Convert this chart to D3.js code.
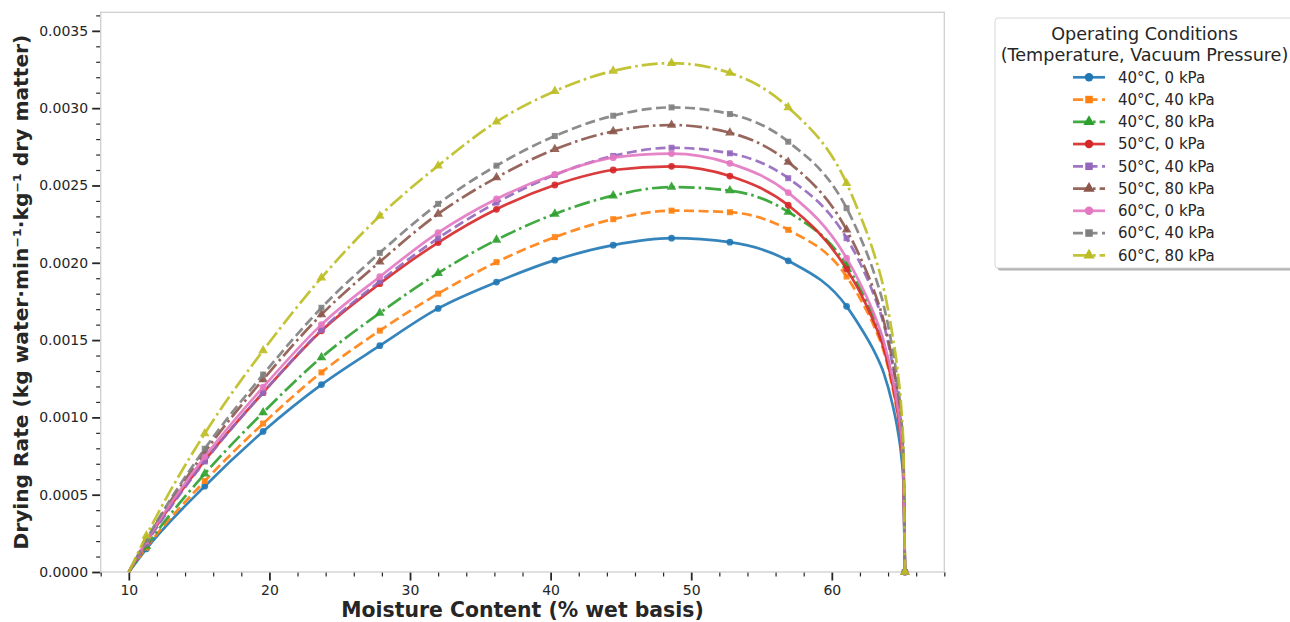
<!DOCTYPE html>
<html>
<head>
<meta charset="utf-8">
<script src="https://cdn.jsdelivr.net/npm/d3@7"></script>
<style>
  body { margin: 0; background: #fff; }
  text { font-family: "DejaVu Sans", sans-serif; }
</style>
</head>
<body>
<svg id="chart" width="1290" height="622"></svg>
<script>
// Moisture content sample points (% wet basis)
const moisture = [10, 11.25, 15.4, 19.55, 23.7, 27.85, 32.0, 36.15, 40.3, 44.45, 48.6, 52.75, 56.9, 61.05,
                  62.0, 63.0, 63.7, 64.3, 64.7, 64.95, 65.1, 65.2];

// Drying rate (kg water·min⁻¹·kg⁻¹ dry matter) for each operating condition
const rate40C0kPa  = [0, 0.000150, 0.000555, 0.000909, 0.001212, 0.001464, 0.001705, 0.001875, 0.002017, 0.002114, 0.002159, 0.002133, 0.002013, 0.001718,
                      0.001588, 0.001430, 0.001285, 0.001090, 0.000910, 0.000745, 0.000560, 0];
const rate40C40kPa = [0, 0.000158, 0.000588, 0.000960, 0.001291, 0.001561, 0.001800, 0.002004, 0.002166, 0.002282, 0.002337, 0.002327, 0.002213, 0.001911,
                      0.001770, 0.001590, 0.001425, 0.001200, 0.001000, 0.000820, 0.000610, 0];
const rate40C80kPa = [0, 0.000168, 0.000635, 0.001031, 0.001388, 0.001675, 0.001933, 0.002148, 0.002316, 0.002434, 0.002490, 0.002467, 0.002329, 0.001985,
                      0.001835, 0.001650, 0.001475, 0.001245, 0.001040, 0.000850, 0.000630, 0];
const rate50C0kPa  = [0, 0.000195, 0.000720, 0.001160, 0.001560, 0.001865, 0.002131, 0.002346, 0.002503, 0.002600, 0.002624, 0.002561, 0.002372, 0.001959,
                      0.001810, 0.001615, 0.001445, 0.001220, 0.001020, 0.000830, 0.000620, 0];
const rate50C40kPa = [0, 0.000185, 0.000715, 0.001160, 0.001565, 0.001880, 0.002159, 0.002389, 0.002568, 0.002691, 0.002744, 0.002708, 0.002547, 0.002159,
                      0.002000, 0.001790, 0.001600, 0.001350, 0.001130, 0.000920, 0.000680, 0];
const rate50C80kPa = [0, 0.000205, 0.000775, 0.001245, 0.001665, 0.002006, 0.002316, 0.002551, 0.002734, 0.002850, 0.002891, 0.002841, 0.002652, 0.002213,
                      0.002040, 0.001820, 0.001620, 0.001370, 0.001140, 0.000930, 0.000690, 0];
const rate60C0kPa  = [0, 0.000200, 0.000745, 0.001195, 0.001600, 0.001910, 0.002195, 0.002413, 0.002572, 0.002680, 0.002706, 0.002643, 0.002454, 0.002030,
                      0.001870, 0.001670, 0.001490, 0.001260, 0.001050, 0.000860, 0.000640, 0];
const rate60C40kPa = [0, 0.000210, 0.000797, 0.001277, 0.001709, 0.002064, 0.002381, 0.002628, 0.002820, 0.002951, 0.003005, 0.002962, 0.002783, 0.002353,
                      0.002170, 0.001935, 0.001720, 0.001450, 0.001210, 0.000985, 0.000730, 0];
const rate60C80kPa = [0, 0.000235, 0.000896, 0.001432, 0.001903, 0.002303, 0.002628, 0.002912, 0.003110, 0.003241, 0.003291, 0.003228, 0.003005, 0.002514,
                      0.002310, 0.002060, 0.001830, 0.001540, 0.001285, 0.001045, 0.000770, 0];

const conditionLabels = ["40°C, 0 kPa", "40°C, 40 kPa", "40°C, 80 kPa",
                         "50°C, 0 kPa", "50°C, 40 kPa", "50°C, 80 kPa",
                         "60°C, 0 kPa", "60°C, 40 kPa", "60°C, 80 kPa"];
const vacuumLevels = [0, 40, 80, 0, 40, 80, 0, 40, 80];
const rateSeries = [rate40C0kPa, rate40C40kPa, rate40C80kPa,
                    rate50C0kPa, rate50C40kPa, rate50C80kPa,
                    rate60C0kPa, rate60C40kPa, rate60C80kPa];

// Sample indices that carry a marker
const markerIndex = [1, 2, 3, 4, 5, 6, 7, 8, 9, 10, 11, 12, 13, 21];

const xTicks = [10, 20, 30, 40, 50, 60];
const yTicks = [0, 0.0005, 0.0010, 0.0015, 0.0020, 0.0025, 0.0030, 0.0035];

// ---- styling ----
const palette = d3.schemeCategory10;
const dashFor = { 0: null, 40: "10,4.5", 80: "16,4,2.6,4" };
const symbolFor = { 0: d3.symbolCircle, 40: d3.symbolSquare, 80: d3.symbolTriangle };
const symbolArea = { 0: 36, 40: 36, 80: 40 };

const svg = d3.select("#chart");
const plot = { left: 100.7, right: 944.3, top: 12.3, bottom: 572 };

const x = d3.scaleLinear().domain([8, 68]).range([plot.left, plot.right]);
const y = d3.scaleLinear().domain([0, 0.00362]).range([plot.bottom, plot.top]);

svg.append("rect").attr("width", 1290).attr("height", 622).attr("fill", "#fff");

// Axes: major ticks with labels, minor ticks without
const tickColor = "#262626";
function styleAxis(g) {
  g.select(".domain").remove();
  g.selectAll(".tick line").attr("stroke", tickColor);
  g.selectAll(".tick text").attr("fill", tickColor).style("font-size", "14px")
    .style("font-family", "'DejaVu Sans', sans-serif");
}

const xMinor = d3.range(8, 68.01, 2).filter(v => v % 10 !== 0);
svg.append("g").attr("transform", `translate(0,${plot.bottom})`)
  .call(d3.axisBottom(x).tickValues(xMinor).tickSize(4.5).tickFormat(""))
  .call(styleAxis).selectAll(".tick line").attr("stroke-width", 1.2);
svg.append("g").attr("transform", `translate(0,${plot.bottom})`)
  .call(d3.axisBottom(x).tickValues(xTicks).tickSize(8.5).tickPadding(5).tickFormat(d3.format("d")))
  .call(styleAxis).selectAll(".tick line").attr("stroke-width", 1.8);

const yMinor = d3.range(0, 37).map(i => i * 0.0001).filter((v, i) => i % 5 !== 0);
svg.append("g").attr("transform", `translate(${plot.left},0)`)
  .call(d3.axisLeft(y).tickValues(yMinor).tickSize(4.5).tickFormat(""))
  .call(styleAxis).selectAll(".tick line").attr("stroke-width", 1.2);
svg.append("g").attr("transform", `translate(${plot.left},0)`)
  .call(d3.axisLeft(y).tickValues(yTicks).tickSize(8.5).tickPadding(4).tickFormat(d3.format(".4f")))
  .call(styleAxis).selectAll(".tick line").attr("stroke-width", 1.8);

// Plot frame
svg.append("rect")
  .attr("x", plot.left).attr("y", plot.top)
  .attr("width", plot.right - plot.left).attr("height", plot.bottom - plot.top)
  .attr("fill", "none").attr("stroke", "#cfcfcf").attr("stroke-width", 1.3);

// Curves
const line = d3.line()
  .x(d => x(d[0]))
  .y(d => y(d[1]))
  .curve(d3.curveMonotoneX);

const curves = svg.append("g");
rateSeries.forEach((vals, i) => {
  const pts = moisture.map((m, k) => [m, vals[k]]);
  const color = palette[i];
  const vac = vacuumLevels[i];
  curves.append("path")
    .datum(pts)
    .attr("d", line)
    .attr("fill", "none")
    .attr("stroke", color)
    .attr("stroke-width", 2.7)
    .attr("stroke-opacity", 0.9)
    .attr("stroke-dasharray", dashFor[vac]);
  const sym = d3.symbol().type(symbolFor[vac]).size(symbolArea[vac]);
  curves.append("g").selectAll("path")
    .data(markerIndex.map(k => pts[k]))
    .join("path")
    .attr("transform", d => `translate(${x(d[0])},${y(d[1])})`)
    .attr("d", sym)
    .attr("fill", color)
    .attr("fill-opacity", 0.9);
});

// Axis titles
svg.append("text")
  .attr("x", (plot.left + plot.right) / 2).attr("y", 617)
  .attr("text-anchor", "middle")
  .style("font-size", "20.4px").style("font-weight", "bold").attr("fill", tickColor)
  .text("Moisture Content (% wet basis)");

svg.append("text")
  .attr("transform", `translate(27.5,${(plot.top + plot.bottom) / 2}) rotate(-90)`)
  .attr("text-anchor", "middle")
  .style("font-size", "20.2px").style("font-weight", "bold").attr("fill", tickColor)
  .text("Drying Rate (kg water·min⁻¹·kg⁻¹ dry matter)");

// Legend
const lg = svg.append("g").attr("transform", "translate(995,18)");
lg.append("rect").attr("x", 2.5).attr("y", 2.5).attr("width", 300).attr("height", 250).attr("rx", 3)
  .attr("fill", "#000").attr("fill-opacity", 0.3);
lg.append("rect").attr("x", 0).attr("y", 0).attr("width", 300).attr("height", 250).attr("rx", 3)
  .attr("fill", "#fff").attr("stroke", "#d6d6d6").attr("stroke-width", 1);

lg.append("text").attr("x", 149.5).attr("y", 21.5).attr("text-anchor", "middle")
  .style("font-size", "17.6px").attr("fill", tickColor).text("Operating Conditions");
lg.append("text").attr("x", 149.5).attr("y", 42.5).attr("text-anchor", "middle")
  .style("font-size", "17.6px").attr("fill", tickColor).text("(Temperature, Vacuum Pressure)");

conditionLabels.forEach((lab, i) => {
  const cy = 59.3 + i * 22.25;
  const color = palette[i];
  const vac = vacuumLevels[i];
  const row = lg.append("g").attr("transform", `translate(0,${cy})`);
  row.append("line").attr("x1", 78).attr("x2", 110).attr("y1", 0).attr("y2", 0)
    .attr("stroke", color).attr("stroke-width", 2.7).attr("stroke-opacity", 0.9)
    .attr("stroke-dasharray", dashFor[vac]);
  row.append("path").attr("transform", "translate(94,0)")
    .attr("d", d3.symbol().type(symbolFor[vac]).size(56)).attr("fill", color);
  row.append("text").attr("x", 123).attr("y", 0).attr("dy", "0.35em")
    .style("font-size", "15px").attr("fill", tickColor).text(lab);
});
</script>
</body>
</html>
